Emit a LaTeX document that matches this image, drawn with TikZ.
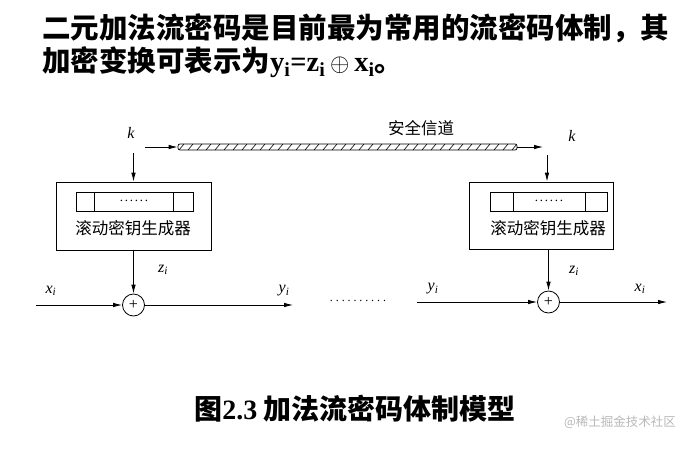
\documentclass[tikz,border=0pt]{standalone}
\usepackage{fontspec}
\setmainfont{Liberation Serif}
\newfontfamily\cjk{Noto Sans CJK SC}
\usetikzlibrary{arrows.meta}
\newcommand\vsub[2]{\textit{#1}\textsubscript{\textit{#2}}}
\newcommand\dotrow[2]{\foreach \n in {1,...,#1}{\makebox[#2]{.}}}
\begin{document}
\begin{tikzpicture}[x=1pt,y=-1pt,
  ln/.style={line width=0.8pt},
  arr/.style={-{Latex[length=9pt,width=4.5pt]}, line width=0.8pt},
  boxn/.style={draw, line width=0.8pt, inner sep=0pt},
  lab/.style={font=\fontsize{16}{16}\selectfont, inner sep=0pt},
  gen/.style={font=\cjk\fontsize{16.5}{16.5}\selectfont, inner sep=0pt},
  xo/.style={draw, circle, line width=0.8pt, minimum size=22pt, inner sep=0pt, font=\fontsize{16}{16}\selectfont},
  title/.style={font=\cjk\bfseries\fontsize{28.5}{28.5}\selectfont, inner sep=0pt, anchor=west}
]
\useasboundingbox (0,0) rectangle (696,450);
% title
\node[title] (t1) at (42,28) {二元加法流密码是目前最为常用的流密码体制，其};
\node[title] (t2) at (42,62) {加密变换可表示为{\rmfamily\bfseries y\textsubscript{i}=z\textsubscript{i}\,$\oplus$\,x\textsubscript{i}}。};
% left generator
\node[boxn, minimum width=155pt, minimum height=68pt] (boxL) at (133.5,216) {};
\node[boxn, minimum width=117pt, minimum height=19pt] (regL) at (134.5,201.5) {};
\draw[ln] ([xshift=19pt]regL.north west) -- ([xshift=19pt]regL.south west);
\draw[ln] ([xshift=-20pt]regL.north east) -- ([xshift=-20pt]regL.south east);
\node[lab, font=\fontsize{13}{13}\selectfont] (dL) at (134,201) {\dotrow{6}{5pt}};
\node[gen] (gL) at (133,228) {滚动密钥生成器};
% right generator
\node[boxn, minimum width=144pt, minimum height=67pt] (boxR) at (541,215.5) {};
\node[boxn, minimum width=117pt, minimum height=19pt] (regR) at (548.5,201.5) {};
\draw[ln] ([xshift=24pt]regR.north west) -- ([xshift=24pt]regR.south west);
\draw[ln] ([xshift=-22pt]regR.north east) -- ([xshift=-22pt]regR.south east);
\node[lab, font=\fontsize{13}{13}\selectfont] (dR) at (549,201) {\dotrow{6}{5pt}};
\node[gen] (gR) at (548,228) {滚动密钥生成器};
% secure channel
\node[draw, line width=0.7pt, minimum width=339pt, minimum height=6pt, inner sep=0pt, rounded corners=2pt,
  path picture={\foreach \i in {0,...,37}
     \draw[line width=0.6pt] ([xshift=\i*9pt+1pt]path picture bounding box.south west) -- ++(5pt,6pt);}] (chan) at (347.5,147) {};
\node[gen] (chl) at (421,128) {安全信道};
% keys
\node[lab] (kL) at (131,133) {\textit{k}};
\node[lab] (kR) at (572,136) {\textit{k}};
\coordinate (kLdown) at (133.5,153);
\coordinate (kLin) at (145,147);
\coordinate (kRend) at (543,147);
\coordinate (kRdown) at (547,155);
\draw[arr] (kLdown) -- (boxL.north);
\draw[arr] (kLin) -- (chan.west);
\draw[arr] (chan.east) -- (kRend);
\draw[arr] (kRdown) -- (kRdown |- boxR.north);
% adders
\node[xo] (cL) at (133.5,305) {+};
\node[xo] (cR) at (548.5,302) {+};
\draw[arr] (cL |- boxL.south) -- (cL.north);
\draw[arr] (cR |- boxR.south) -- (cR.north);
\node[lab] (zL) at (163,270) {\vsub{z}{i}};
\node[lab] (zR) at (574,271) {\vsub{z}{i}};
% left data line
\coordinate (xin) at (36,305);
\coordinate (yout) at (293,305);
\node[lab] (xL) at (51,291) {\vsub{x}{i}};
\node[lab] (yL) at (284,291) {\vsub{y}{i}};
\draw[arr] (xin) -- (cL.west);
\draw[arr] (cL.east) -- (yout);
\node[lab, font=\fontsize{12}{12}\selectfont] (mid) at (358,301) {\dotrow{10}{5.9pt}};
% right data line
\coordinate (yin) at (417,302);
\coordinate (xout) at (667,302);
\node[lab] (yR) at (433,289) {\vsub{y}{i}};
\node[lab] (xR) at (640,289) {\vsub{x}{i}};
\draw[arr] (yin) -- (cR.west);
\draw[arr] (cR.east) -- (xout);
% caption
\node[font=\cjk\bfseries\fontsize{28}{28}\selectfont, inner sep=0pt] (cap) at (355,409) {图{\rmfamily\bfseries 2.3} 加法流密码体制模型};
\node[font=\cjk\fontsize{12.5}{12.5}\selectfont, text=black!28, inner sep=0pt] (wm) at (620,422) {@稀土掘金技术社区};
\end{tikzpicture}
\end{document}
